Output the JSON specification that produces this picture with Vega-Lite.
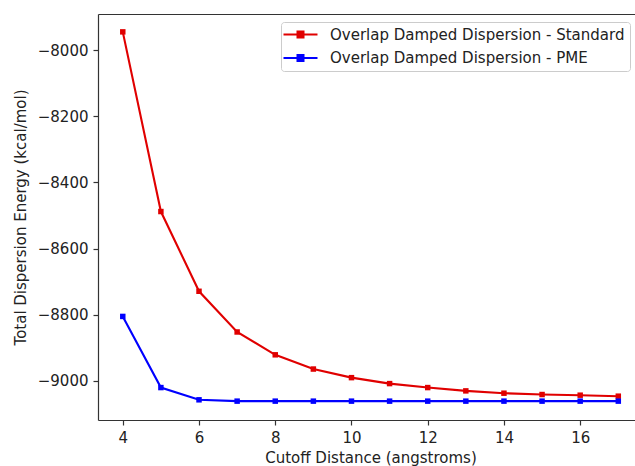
{
  "$schema": "https://vega.github.io/schema/vega-lite/v6.json",
  "width": 537,
  "height": 406,
  "autosize": {"type": "none"},
  "padding": {"left": 98, "top": 14, "right": 0, "bottom": 46},
  "background": "white",
  "config": {
    "font": "DejaVu Sans",
    "view": {"stroke": null},
    "axis": {
      "labelFont": "DejaVu Sans", "labelFontSize": 15, "labelColor": "#222",
      "titleFont": "DejaVu Sans", "titleFontSize": 15, "titleFontWeight": "normal", "titleColor": "#222",
      "grid": false, "domainColor": "#333", "domainWidth": 1.2,
      "tickColor": "#333", "tickWidth": 1.2, "tickSize": 5, "labelPadding": 5,
      "labelFlush": false, "labelOverlap": false
    }
  },
  "data": {
    "values": [
      {"series": "Overlap Damped Dispersion - Standard", "cutoff": 4, "energy": -7945},
      {"series": "Overlap Damped Dispersion - Standard", "cutoff": 5, "energy": -8488},
      {"series": "Overlap Damped Dispersion - Standard", "cutoff": 6, "energy": -8729},
      {"series": "Overlap Damped Dispersion - Standard", "cutoff": 7, "energy": -8852},
      {"series": "Overlap Damped Dispersion - Standard", "cutoff": 8, "energy": -8921},
      {"series": "Overlap Damped Dispersion - Standard", "cutoff": 9, "energy": -8964},
      {"series": "Overlap Damped Dispersion - Standard", "cutoff": 10, "energy": -8990},
      {"series": "Overlap Damped Dispersion - Standard", "cutoff": 11, "energy": -9008},
      {"series": "Overlap Damped Dispersion - Standard", "cutoff": 12, "energy": -9020},
      {"series": "Overlap Damped Dispersion - Standard", "cutoff": 13, "energy": -9030},
      {"series": "Overlap Damped Dispersion - Standard", "cutoff": 14, "energy": -9037},
      {"series": "Overlap Damped Dispersion - Standard", "cutoff": 15, "energy": -9041},
      {"series": "Overlap Damped Dispersion - Standard", "cutoff": 16, "energy": -9043},
      {"series": "Overlap Damped Dispersion - Standard", "cutoff": 17, "energy": -9046},
      {"series": "Overlap Damped Dispersion - PME", "cutoff": 4, "energy": -8805},
      {"series": "Overlap Damped Dispersion - PME", "cutoff": 5, "energy": -9020},
      {"series": "Overlap Damped Dispersion - PME", "cutoff": 6, "energy": -9057},
      {"series": "Overlap Damped Dispersion - PME", "cutoff": 7, "energy": -9061},
      {"series": "Overlap Damped Dispersion - PME", "cutoff": 8, "energy": -9061},
      {"series": "Overlap Damped Dispersion - PME", "cutoff": 9, "energy": -9061},
      {"series": "Overlap Damped Dispersion - PME", "cutoff": 10, "energy": -9061},
      {"series": "Overlap Damped Dispersion - PME", "cutoff": 11, "energy": -9061},
      {"series": "Overlap Damped Dispersion - PME", "cutoff": 12, "energy": -9061},
      {"series": "Overlap Damped Dispersion - PME", "cutoff": 13, "energy": -9061},
      {"series": "Overlap Damped Dispersion - PME", "cutoff": 14, "energy": -9061},
      {"series": "Overlap Damped Dispersion - PME", "cutoff": 15, "energy": -9061},
      {"series": "Overlap Damped Dispersion - PME", "cutoff": 16, "energy": -9061},
      {"series": "Overlap Damped Dispersion - PME", "cutoff": 17, "energy": -9061}
    ]
  },
  "layer": [
    {
      "mark": {"type": "line", "strokeWidth": 2.1, "point": {"shape": "square", "size": 30, "filled": true}},
      "encoding": {
        "x": {
          "field": "cutoff", "type": "quantitative",
          "scale": {"domain": [3.35, 17.438], "nice": false, "zero": false},
          "axis": {"values": [4, 6, 8, 10, 12, 14, 16], "title": "Cutoff Distance (angstroms)", "titleX": 272.5, "titlePadding": 5}
        },
        "y": {
          "field": "energy", "type": "quantitative",
          "scale": {"domain": [-9118, -7891], "nice": false, "zero": false},
          "axis": {"values": [-9000, -8800, -8600, -8400, -8200, -8000], "format": "d", "title": "Total Dispersion Energy (kcal/mol)", "titlePadding": 9}
        },
        "color": {
          "field": "series", "type": "nominal",
          "scale": {"domain": ["Overlap Damped Dispersion - Standard", "Overlap Damped Dispersion - PME"], "range": ["#e00000", "#0000ff"]},
          "legend": {
            "orient": "none", "legendX": 183, "legendY": 8, "title": null,
            "labelFont": "DejaVu Sans", "labelFontSize": 15, "labelColor": "#222", "labelLimit": 500,
            "padding": 5, "strokeColor": "#cccccc", "fillColor": "rgba(255,255,255,0.8)", "cornerRadius": 3,
            "symbolType": "M-2.833,0H2.833M-0.5,-0.5H0.5V0.5H-0.5Z", "symbolSize": 144, "symbolStrokeWidth": 2,
            "symbolOffset": 7, "labelOffset": 22, "rowPadding": 7.5,
            "encode": {"symbols": {"update": {"fill": {"scale": "color", "field": "value"}, "fillOpacity": {"value": 1}}}}
          }
        }
      }
    },
    {
      "mark": {"type": "line", "opacity": 0},
      "encoding": {
        "x": {
          "field": "cutoff", "type": "quantitative",
          "axis": {"orient": "top", "labels": false, "ticks": false, "title": null, "domain": true}
        },
        "y": {"field": "energy", "type": "quantitative", "axis": null}
      }
    }
  ],
  "resolve": {"axis": {"x": "independent", "y": "independent"}}
}
